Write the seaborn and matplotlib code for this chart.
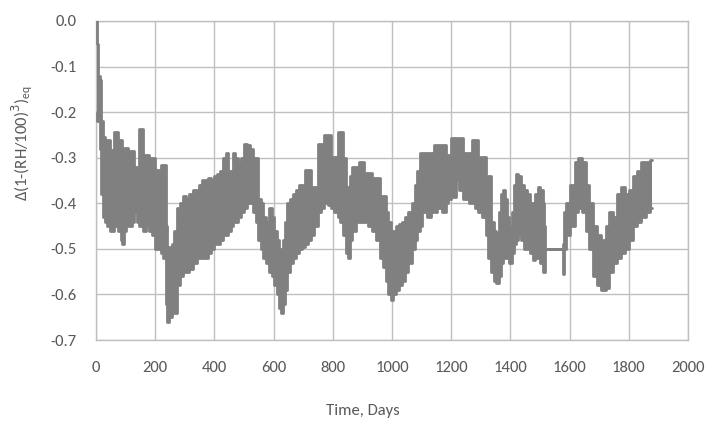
import matplotlib
matplotlib.use("Agg")
import matplotlib.pyplot as plt
import seaborn as sns
import pandas as pd

# Envelope of the noisy series (day, upper, lower)
days = [2, 6, 10, 15, 20, 26, 34, 42, 50, 58, 64, 72, 80, 87, 92, 98, 105, 109, 115, 125,
        132, 142, 148, 154, 162, 176, 184, 194, 205, 215, 224, 232, 238, 244, 252, 260, 270, 280,
        290, 300, 310, 320, 335, 345, 352, 362, 372, 385, 395, 405, 415, 425, 435, 442, 450, 460,
        466, 475, 485, 495, 505, 515, 525, 535, 545, 552, 560, 570, 580, 590, 598, 606, 615, 622,
        628, 635, 642, 650, 660, 670, 680, 690, 700, 712, 722, 730, 745, 752, 767, 775, 790, 797,
        812, 820, 832, 840, 848, 856, 862, 870, 885, 892, 903, 910, 925, 937, 953, 965, 976, 983,
        993, 1000, 1008, 1018, 1030, 1040, 1050, 1060, 1072, 1082, 1090, 1096, 1110, 1125, 1140,
        1146, 1160, 1178, 1185, 1196, 1202, 1210, 1220, 1236, 1242, 1255, 1268, 1275, 1288, 1292,
        1313, 1320, 1331, 1340, 1348, 1356, 1365, 1372, 1378, 1385, 1392, 1400, 1408, 1415, 1422,
        1430, 1440, 1450, 1460, 1470, 1480, 1488, 1496, 1505, 1512, 1516, 1518, 1577, 1579, 1583,
        1595, 1610, 1625, 1635, 1648, 1660, 1672, 1685, 1700, 1715, 1728, 1740, 1755, 1768, 1781,
        1795, 1808, 1820, 1835, 1850, 1865, 1878]
upper = [0.0, -0.05, -0.12, -0.13, -0.22, -0.255, -0.261, -0.261, -0.283, -0.283, -0.243, -0.243,
         -0.261, -0.261, -0.342, -0.279, -0.279, -0.33, -0.285, -0.285, -0.32, -0.32, -0.236,
         -0.236, -0.294, -0.294, -0.301, -0.301, -0.327, -0.327, -0.316, -0.316, -0.45, -0.50,
         -0.495, -0.49, -0.46, -0.41, -0.40, -0.385, -0.39, -0.38, -0.37, -0.375, -0.36, -0.35,
         -0.35, -0.345, -0.35, -0.34, -0.335, -0.33, -0.30, -0.29, -0.33, -0.33, -0.29, -0.30,
         -0.31, -0.30, -0.27, -0.272, -0.28, -0.30, -0.30, -0.39, -0.40, -0.43, -0.44, -0.41,
         -0.43, -0.46, -0.48, -0.50, -0.51, -0.48, -0.44, -0.40, -0.39, -0.38, -0.37, -0.36, -0.36,
         -0.327, -0.327, -0.364, -0.364, -0.269, -0.269, -0.25, -0.25, -0.298, -0.298, -0.243,
         -0.243, -0.30, -0.364, -0.364, -0.34, -0.32, -0.32, -0.309, -0.309, -0.334, -0.334,
         -0.345, -0.345, -0.385, -0.385, -0.42, -0.44, -0.46, -0.46, -0.45, -0.445, -0.44, -0.43,
         -0.42, -0.40, -0.36, -0.33, -0.29, -0.29, -0.29, -0.29, -0.272, -0.272, -0.272, -0.294,
         -0.294, -0.257, -0.257, -0.257, -0.257, -0.29, -0.29, -0.29, -0.261, -0.261, -0.298,
         -0.298, -0.341, -0.341, -0.44, -0.46, -0.466, -0.42, -0.38, -0.37, -0.39, -0.43, -0.45,
         -0.42, -0.36, -0.335, -0.34, -0.36, -0.37, -0.38, -0.40, -0.41, -0.38, -0.365, -0.37,
         -0.40, -0.45, -0.50, -0.50, -0.49, -0.42, -0.40, -0.36, -0.31, -0.30, -0.31, -0.36, -0.40,
         -0.45, -0.47, -0.48, -0.45, -0.42, -0.43, -0.38, -0.365, -0.38, -0.37, -0.34, -0.33,
         -0.31, -0.31, -0.305]
lower = [-0.20, -0.22, -0.22, -0.28, -0.38, -0.43, -0.44, -0.45, -0.46, -0.46, -0.44, -0.45,
         -0.46, -0.48, -0.49, -0.46, -0.44, -0.45, -0.45, -0.44, -0.42, -0.44, -0.45, -0.45,
         -0.46, -0.45, -0.46, -0.47, -0.50, -0.50, -0.51, -0.52, -0.62, -0.66, -0.65, -0.64,
         -0.64, -0.58, -0.56, -0.55, -0.55, -0.545, -0.53, -0.52, -0.52, -0.52, -0.52, -0.51,
         -0.50, -0.49, -0.49, -0.48, -0.47, -0.47, -0.46, -0.45, -0.44, -0.44, -0.43, -0.42,
         -0.41, -0.40, -0.40, -0.42, -0.44, -0.48, -0.50, -0.52, -0.53, -0.55, -0.56, -0.58,
         -0.60, -0.63, -0.64, -0.62, -0.59, -0.55, -0.53, -0.52, -0.51, -0.50, -0.495, -0.49,
         -0.48, -0.47, -0.45, -0.42, -0.41, -0.40, -0.404, -0.41, -0.42, -0.43, -0.44, -0.47,
         -0.51, -0.52, -0.48, -0.46, -0.44, -0.44, -0.44, -0.44, -0.45, -0.46, -0.48, -0.52,
         -0.54, -0.57, -0.60, -0.612, -0.60, -0.59, -0.58, -0.57, -0.55, -0.53, -0.50, -0.48,
         -0.46, -0.45, -0.42, -0.43, -0.42, -0.42, -0.41, -0.42, -0.40, -0.39, -0.37, -0.386,
         -0.35, -0.37, -0.39, -0.39, -0.40, -0.40, -0.41, -0.42, -0.43, -0.47, -0.52, -0.55,
         -0.57, -0.575, -0.56, -0.53, -0.52, -0.52, -0.52, -0.53, -0.51, -0.49, -0.48, -0.47,
         -0.48, -0.50, -0.50, -0.51, -0.525, -0.52, -0.52, -0.53, -0.55, -0.55, -0.50, -0.50,
         -0.555, -0.50, -0.47, -0.45, -0.42, -0.41, -0.42, -0.46, -0.50, -0.56, -0.58, -0.59,
         -0.585, -0.55, -0.53, -0.52, -0.51, -0.50, -0.48, -0.45, -0.44, -0.43, -0.42, -0.41]

x_ticks = [0, 200, 400, 600, 800, 1000, 1200, 1400, 1600, 1800, 2000]
y_ticks = [0.0, -0.1, -0.2, -0.3, -0.4, -0.5, -0.6, -0.7]

sns.set_theme(style="white")
plt.rcParams['font.family'] = ['Carlito', 'Lato', 'DejaVu Sans']

df = pd.DataFrame({"day": days, "upper": upper, "lower": lower})

fig = plt.figure(figsize=(7.14, 4.23), dpi=100)
ax = fig.add_axes([96 / 714, 83 / 423, 592 / 714, 319 / 423])

line_col = "#808080"
grid_col = "#bfbfbf"
txt_col = "#595959"

ax.fill_between(df["day"], df["lower"], df["upper"], color=line_col, linewidth=0,
                zorder=3, step="mid")
sns.lineplot(data=df, x="day", y="upper", ax=ax, color=line_col, linewidth=2, zorder=3,
             sort=False, drawstyle="steps-mid")
sns.lineplot(data=df, x="day", y="lower", ax=ax, color=line_col, linewidth=2, zorder=3,
             sort=False, drawstyle="steps-mid")

ax.set_xlim(0, 2000)
ax.set_ylim(-0.7, 0.0)
ax.set_xticks(x_ticks)
ax.set_yticks(y_ticks)
ax.set_xticklabels([str(t) for t in x_ticks])
ax.set_yticklabels([f"{t:.1f}" for t in y_ticks])
ax.grid(True, color=grid_col, linewidth=1.0, zorder=0)
ax.set_axisbelow(True)
for s in ax.spines.values():
    s.set_color(grid_col)
    s.set_linewidth(1.0)
ax.tick_params(axis='both', length=0, labelsize=12, colors=txt_col)
ax.tick_params(axis='y', pad=14)
ax.tick_params(axis='x', pad=15)
ax.set_xlabel("")
ax.set_ylabel("")

fig.text(363 / 714, 1 - 411 / 423, "Time, Days", ha="center", va="center", fontsize=12, color=txt_col)
fig.text(21 / 714, 1 - 143 / 423, r"Δ(1-(RH/100)$^{3}$)$_{\mathregular{eq}}$", rotation=90,
         ha="center", va="center", fontsize=12, color=txt_col)

fig.savefig("out.png", dpi=100)
